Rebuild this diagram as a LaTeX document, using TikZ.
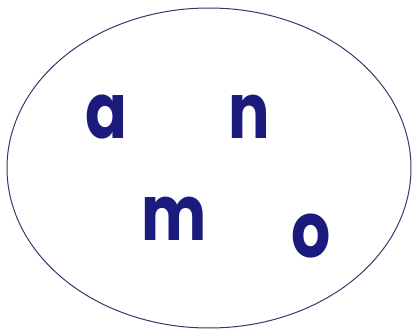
\documentclass[tikz,border=0pt]{standalone}
\usepackage{fontspec}
\setmainfont{Poppins}
\usetikzlibrary{shapes.geometric}
\newcommand{\narrowltr}[1]{\scalebox{0.8}[1]{#1}}
\begin{document}
\begin{tikzpicture}[x=1pt,y=1pt,
  letter/.style={inner sep=0pt,anchor=base,text=navyc,font=\fontsize{77}{77}\selectfont\bfseries},
  ring/.style={draw=ringc,line width=1pt}]
\definecolor{navyc}{HTML}{1B1B7E}
\definecolor{ringc}{HTML}{2E3C6C}
\useasboundingbox (0,0) rectangle (413,333);
\node[ring,ellipse,minimum width=404pt,minimum height=320pt,inner sep=0pt] (e) at (209,165) {};
\node[letter] (a) at (106,195) {\narrowltr{a}};
\node[letter] (n) at (249,195) {\narrowltr{n}};
\node[letter] (m) at (174,93) {\narrowltr{m}};
\node[letter] (o) at (311,76) {\narrowltr{o}};
\end{tikzpicture}
\end{document}
